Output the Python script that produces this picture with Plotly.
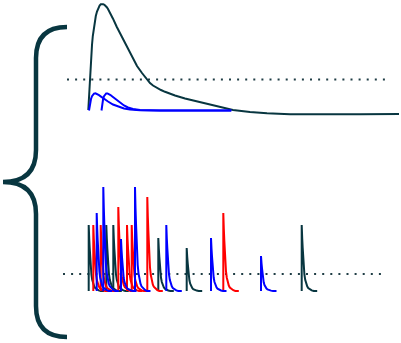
import plotly.graph_objects as go

W, H = 401, 343
TEAL = "#083640"
BLUE = "#0000ff"
RED = "#ff0000"
DOT = "#1f3d45"

# ---- top panel: slow summed response (time, amplitude) ----
top_t = [88.3, 88.8, 89.4, 90, 90.6, 91.2, 92, 92.8, 93.7, 94.7, 95.8, 97, 98.3, 99.6,
         100.8, 102, 103.2, 104.4, 105.6, 106.8, 108, 109.4, 111, 113, 116.7, 121.7,
         126.7, 131.7, 134.5, 137, 142, 147, 150, 153, 157, 161, 165, 170, 175, 185, 200,
         215, 233, 250, 267, 290, 320, 360, 399]
top_v = [233, 243, 255, 266, 277, 287, 298, 307, 315, 321.5, 327, 331.5, 335, 337.5,
         338.7, 339, 338.8, 338.2, 337.2, 335.8, 334, 331.5, 328.3, 324.3, 316.3, 306.3,
         296.3, 286, 281, 277, 270, 263, 260, 257.5, 255, 253, 251.2, 249.3, 247.5, 244.5,
         241, 237, 233, 231, 229.7, 228.8, 228.6, 228.8, 229]

# small blue responses
blue1_t = [89, 90, 91, 92, 93, 94, 95.5, 97, 99, 101, 103, 105.5, 108, 113, 118, 124,
           130, 140, 160, 231]
blue1_v = [232.5, 239.5, 244, 246.8, 248.5, 249.4, 249.7, 249.2, 247.8, 246.4, 244.8,
           243, 241.5, 238.5, 236.5, 234.5, 233.5, 232.8, 232.5, 232.5]
blue2_t = [101.5, 102.3, 103.1, 104, 105, 106.2, 107.5, 109, 110.5, 112, 114, 116, 120,
           124, 128, 133, 140, 160, 231.5]
blue2_v = [232.5, 239.5, 244, 246.8, 248.6, 249.6, 249.6, 249, 248, 246.8, 245.2, 243.5,
           240.5, 237.5, 235.5, 234, 233, 232.5, 232.5]

# ---- bottom panel: spikes ----
spike_times = [88.7, 93.3, 96.7, 100.7, 103.3, 106.3, 113.3, 118.3, 121, 127, 131.7,
               135, 147.3, 158.3, 166.3, 186.7, 211, 223.3, 261, 301.7]
spike_heights = [66, 66, 78, 66, 104, 66, 66, 84, 52, 66, 66, 104, 94, 53, 66, 43, 53,
                 78, 35, 66]
spike_colors = ["teal", "red", "blue", "red", "blue", "teal", "teal", "red", "blue",
                "red", "red", "blue", "red", "teal", "blue", "teal", "blue", "red",
                "blue", "teal"]
# decay shape of one spike (fraction of peak vs time after onset)
kernel_dt = [0, 0.5, 1, 1.5, 2, 2.7, 3.5, 4.5, 5.5, 6.5, 8, 10, 12, 15.5]
kernel_f = [1.0, 0.8, 0.65, 0.5, 0.38, 0.25, 0.17, 0.11, 0.07, 0.045, 0.025, 0.01, 0.0, 0.0]
spike_base = 52

dot_levels = [263.5, 69]
dot_spans = [(67, 390), (63, 387)]

# brace outline (time, amplitude) used for the decorative path
brace_x = [67, 36, 3]
brace_y = [316, 6, 161]

color_map = {"teal": TEAL, "red": RED, "blue": BLUE}

fig = go.Figure()

for lvl, (a, b) in zip(dot_levels, dot_spans):
    fig.add_trace(go.Scatter(x=[a, b], y=[lvl, lvl], mode="lines",
                             line=dict(color=DOT, width=2, dash="2px,6.1px"),
                             hoverinfo="skip"))

fig.add_trace(go.Scatter(x=top_t, y=top_v, mode="lines",
                         line=dict(color=TEAL, width=2)))
fig.add_trace(go.Scatter(x=blue1_t, y=blue1_v, mode="lines",
                         line=dict(color=BLUE, width=2)))
fig.add_trace(go.Scatter(x=blue2_t, y=blue2_v, mode="lines",
                         line=dict(color=BLUE, width=2)))

for cname in ["teal", "red", "blue"]:
    xs, ys = [], []
    for t0, h, c in zip(spike_times, spike_heights, spike_colors):
        if c != cname:
            continue
        xs.append(t0)
        ys.append(spike_base)
        for dt, f in zip(kernel_dt, kernel_f):
            xs.append(t0 + dt)
            ys.append(spike_base + h * f)
        xs.append(None)
        ys.append(None)
    fig.add_trace(go.Scatter(x=xs, y=ys, mode="lines",
                             line=dict(color=color_map[cname], width=2)))

# curly brace
xe, xv, xt = brace_x
ytop, ybot, ymid = brace_y
r = 31
path = (f"M {xe},{ytop} Q {xv},{ytop} {xv},{ytop - r} "
        f"L {xv},{ymid + 32} Q {xv},{ymid} {xt},{ymid} "
        f"Q {xv},{ymid} {xv},{ymid - 32} "
        f"L {xv},{ybot + r} Q {xv},{ybot} {xe},{ybot}")
fig.add_shape(type="path", path=path, xref="x", yref="y",
              line=dict(color=TEAL, width=4.5))

fig.update_layout(
    width=W, height=H, margin=dict(l=0, r=0, t=0, b=0),
    paper_bgcolor="white", plot_bgcolor="white", showlegend=False,
    xaxis=dict(range=[0, W], visible=False, fixedrange=True),
    yaxis=dict(range=[0, H], visible=False, fixedrange=True),
)

fig.write_html("out.html", config={"displayModeBar": False},
               post_script="document.body.style.margin='0';document.body.style.overflow='hidden';")
